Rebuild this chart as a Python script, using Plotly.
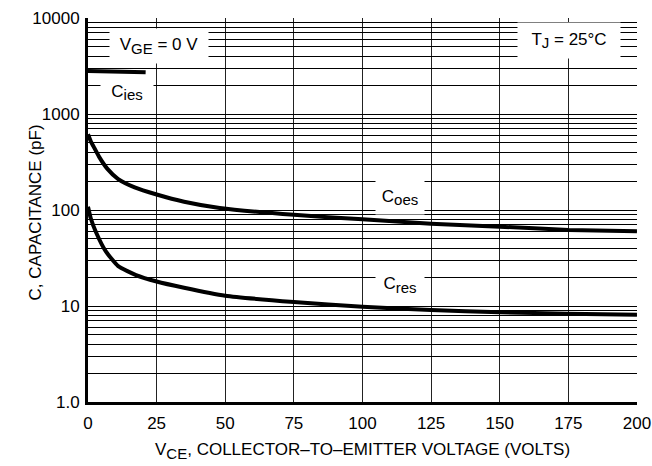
import plotly.graph_objects as go

# ---- data ----
vce_ies = [0, 10, 21]
c_ies = [2800, 2760, 2720]

vce_oes = [0, 1, 2, 4, 7, 11, 17, 25, 35, 48, 75, 100, 125, 150, 175, 200]
c_oes = [615, 520, 460, 360, 270, 210, 172, 145, 122, 105, 89, 80, 72, 67, 62, 60]

vce_res = [0, 1, 3, 6.5, 11, 17.5, 25, 35, 50, 75, 100, 125, 150, 175, 200]
c_res = [108, 82, 58, 37, 26, 21, 18, 15.5, 12.8, 11, 9.8, 9.1, 8.6, 8.3, 8.1]

x_ticks = [0, 25, 50, 75, 100, 125, 150, 175, 200]
decade_labels = {1: "1.0", 10: "10", 100: "100", 1000: "1000", 10000: "10000"}

FONT = "Liberation Sans, Arial, sans-serif"
FS = 17


def sub(s):
    return "<sub><span style='font-size:15px'>" + s + "</span></sub>"


y_tickvals = []
y_ticktext = []
for dec in [1, 10, 100, 1000]:
    for m in range(1, 10):
        v = dec * m
        y_tickvals.append(v)
        y_ticktext.append(decade_labels.get(v, " "))
y_tickvals.append(10000)
y_ticktext.append(decade_labels[10000])

fig = go.Figure()
line_style = dict(color="black", width=4)
fig.add_trace(go.Scatter(x=vce_ies, y=c_ies, mode="lines", line=line_style, hoverinfo="skip"))
fig.add_trace(go.Scatter(x=vce_oes, y=c_oes, mode="lines", line=dict(line_style, shape="spline", smoothing=0.5), hoverinfo="skip"))
fig.add_trace(go.Scatter(x=vce_res, y=c_res, mode="lines", line=dict(line_style, shape="spline", smoothing=0.5), hoverinfo="skip"))

fig.update_layout(
    width=652, height=466,
    margin=dict(l=88, r=15, t=18, b=64),
    paper_bgcolor="white", plot_bgcolor="white",
    showlegend=False,
    font=dict(family=FONT, size=FS, color="black"),
)
fig.update_xaxes(
    range=[0, 200.02], tickvals=x_ticks, ticks="", showgrid=True,
    gridcolor="#222", gridwidth=1, zeroline=False, automargin=False,
    showline=True, linecolor="black", linewidth=3,
    tickfont=dict(family=FONT, size=FS), ticklabelstandoff=4,
)
fig.update_yaxes(
    type="log", range=[0, 4.0001], tickvals=y_tickvals, ticktext=y_ticktext,
    ticks="", showgrid=True, gridcolor="black", gridwidth=1, zeroline=False,
    automargin=False,
    showline=True, linecolor="black", linewidth=3,
    tickfont=dict(family=FONT, size=FS), ticklabelstandoff=2,
)


def box(text, x, ly, w, h):
    fig.add_annotation(x=x, y=ly, xref="x", yref="y", text=text, showarrow=False,
                       bgcolor="white", width=w, height=h, borderpad=0,
                       font=dict(family=FONT, size=FS, color="black"))


box("V" + sub("GE") + " = 0 V", 25.9, 3.71, 98, 34)
box("C" + sub("ies"), 14.2, 3.22, 52, 27)
box("T" + sub("J") + " = 25°C", 175.2, 3.766, 102, 35)
box("C" + sub("oes"), 113.7, 2.135, 48, 33)
box("C" + sub("res"), 113.7, 1.22, 48, 28)

fig.add_annotation(x=0.5, y=-0.127, xref="paper", yref="paper", yanchor="middle",
                   text="V" + sub("CE") + ", COLLECTOR–TO–EMITTER VOLTAGE (VOLTS)",
                   showarrow=False, font=dict(family=FONT, size=FS))
fig.add_annotation(x=-0.1166, y=0.495, xref="paper", yref="paper", textangle=-90,
                   text="C, CAPACITANCE (pF)", showarrow=False,
                   font=dict(family=FONT, size=FS))

fig.write_html("out.html")
